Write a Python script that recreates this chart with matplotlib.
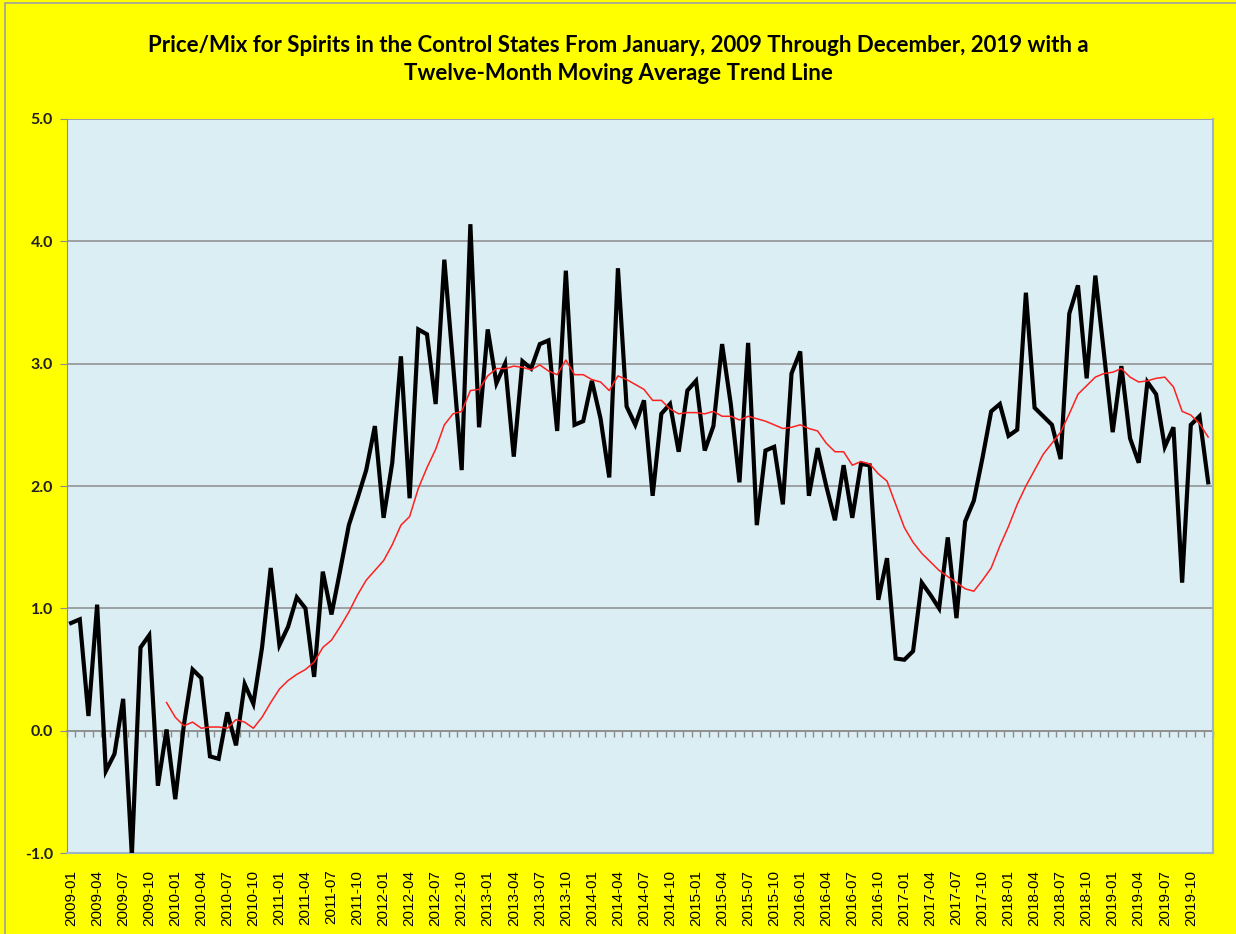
import matplotlib
matplotlib.use('Agg')
import matplotlib.pyplot as plt
from matplotlib.patches import Rectangle
import numpy as np
import pandas as pd

# monthly labels 2009-01 .. 2019-12
MONTHS = pd.period_range('2009-01', '2019-12', freq='M').strftime('%Y-%m').tolist()

# price/mix values (black line)
PRICE_MIX = [
    0.88, 0.91, 0.12, 1.03, -0.33, -0.19, 0.26, -1.02, 0.68, 0.78, -0.45, 0.01,
    -0.56, 0.05, 0.50, 0.43, -0.21, -0.23, 0.15, -0.12, 0.38, 0.22, 0.68, 1.33,
    0.70, 0.85, 1.09, 1.00, 0.44, 1.30, 0.95, 1.31, 1.68, 1.90, 2.13, 2.49,
    1.74, 2.19, 3.06, 1.90, 3.28, 3.24, 2.67, 3.85, 3.00, 2.13, 4.14, 2.48,
    3.28, 2.84, 3.00, 2.24, 3.02, 2.96, 3.16, 3.19, 2.45, 3.76, 2.50, 2.53,
    2.86, 2.55, 2.07, 3.78, 2.65, 2.50, 2.70, 1.92, 2.59, 2.67, 2.28, 2.78,
    2.86, 2.29, 2.49, 3.16, 2.67, 2.03, 3.17, 1.68, 2.29, 2.32, 1.85, 2.92,
    3.10, 1.92, 2.31, 2.00, 1.72, 2.17, 1.74, 2.18, 2.17, 1.07, 1.41, 0.59,
    0.58, 0.65, 1.21, 1.11, 1.00, 1.58, 0.92, 1.71, 1.88, 2.23, 2.61, 2.67,
    2.41, 2.46, 3.58, 2.64, 2.57, 2.50, 2.22, 3.41, 3.64, 2.88, 3.72, 3.08,
    2.44, 2.98, 2.39, 2.19, 2.85, 2.75, 2.32, 2.48, 1.21, 2.50, 2.57, 2.03,
]

# twelve-month moving average (red line), starts 2009-12
TREND = [np.nan] * 11 + [
    0.23, 0.11, 0.04, 0.07, 0.02, 0.03, 0.03, 0.02, 0.09, 0.07, 0.02, 0.11,
    0.23, 0.34, 0.41, 0.46, 0.50, 0.56, 0.68, 0.74, 0.85, 0.97, 1.11, 1.23,
    1.31, 1.39, 1.52, 1.68, 1.75, 1.98, 2.15, 2.30, 2.50, 2.59, 2.61, 2.78,
    2.79, 2.90, 2.96, 2.96, 2.98, 2.97, 2.95, 2.99, 2.94, 2.91, 3.03, 2.91,
    2.91, 2.87, 2.85, 2.78, 2.90, 2.87, 2.83, 2.79, 2.70, 2.70, 2.63, 2.59,
    2.60, 2.60, 2.59, 2.61, 2.57, 2.57, 2.54, 2.57, 2.55, 2.53, 2.50, 2.47,
    2.48, 2.50, 2.47, 2.45, 2.35, 2.28, 2.28, 2.17, 2.20, 2.18, 2.10, 2.04,
    1.85, 1.66, 1.54, 1.45, 1.38, 1.31, 1.26, 1.21, 1.16, 1.14, 1.23, 1.33,
    1.51, 1.67, 1.85, 2.00, 2.13, 2.26, 2.35, 2.44, 2.59, 2.75, 2.82, 2.89,
    2.92, 2.93, 2.96, 2.89, 2.85, 2.86, 2.88, 2.89, 2.81, 2.61, 2.58, 2.51,
    2.40,
]

Y_TICKS = [-1.0, 0.0, 1.0, 2.0, 3.0, 4.0, 5.0]

TITLE = ('Price/Mix for Spirits in the Control States From January, 2009 Through December, 2019 with a\n'
         'Twelve-Month Moving Average Trend Line')

YELLOW = '#FFFF00'
PLOT_BG = '#DAEEF3'
GRID = '#8C8C8C'

fig = plt.figure(figsize=(12.36, 9.34), dpi=100, facecolor=YELLOW)
ax = fig.add_axes([0.054, 0.0867, 0.927, 0.7859])
ax.set_facecolor(PLOT_BG)

x = np.arange(len(MONTHS))
ax.plot(x, PRICE_MIX, color='black', lw=3.0, solid_joinstyle='miter', zorder=3)
ax.plot(x, TREND, color='#FF2020', lw=1.1, zorder=4)

ax.set_xlim(-0.5, len(MONTHS) - 0.5)
ax.set_ylim(-1.0, 5.0)

ax.set_yticks(Y_TICKS)
ax.set_yticklabels([f'{v:.1f}' for v in Y_TICKS], fontsize=11.5,
                   fontweight='bold', family='Lato', color='#202020')
ax.yaxis.grid(True, color=GRID, lw=1.1)
ax.set_axisbelow(True)
ax.tick_params(axis='y', length=5, color=GRID, pad=5)

ax.set_xticks(x[::3])
ax.set_xticklabels(MONTHS[::3], rotation=90, fontsize=11, family='Liberation Sans')
ax.tick_params(axis='x', length=0, pad=12)

ax.spines['top'].set_visible(False)
ax.spines['left'].set_color(GRID)
ax.spines['bottom'].set_color('#9DB3C8')
ax.spines['bottom'].set_linewidth(1.5)
ax.spines['right'].set_color('#9DB3C8')
ax.spines['right'].set_linewidth(1.5)

# category axis crossing at zero with a tick at each month boundary
zero_pos = (0 - (-1.0)) / (5.0 - (-1.0))
sec = ax.secondary_xaxis(zero_pos)
sec.set_xticks(np.arange(-0.5, len(MONTHS), 1.0))
sec.set_xticklabels([])
sec.tick_params(direction='out', length=4, width=1, color=GRID)
for s in sec.spines.values():
    s.set_color(GRID)
    s.set_linewidth(1.1)

fig.text(0.5, 0.962, TITLE, ha='center', va='top', fontsize=16,
         fontweight='bold', family='Lato', linespacing=1.36)

# thin grey frame along the left and top of the chart area
fig.patches.append(Rectangle((5 / 1236, -0.1), 1.2, 1.1 - 3 / 934,
                             transform=fig.transFigure, fill=False,
                             edgecolor='#A0A0A0', lw=1.2))

fig.savefig('out.png', dpi=100, facecolor=YELLOW)
